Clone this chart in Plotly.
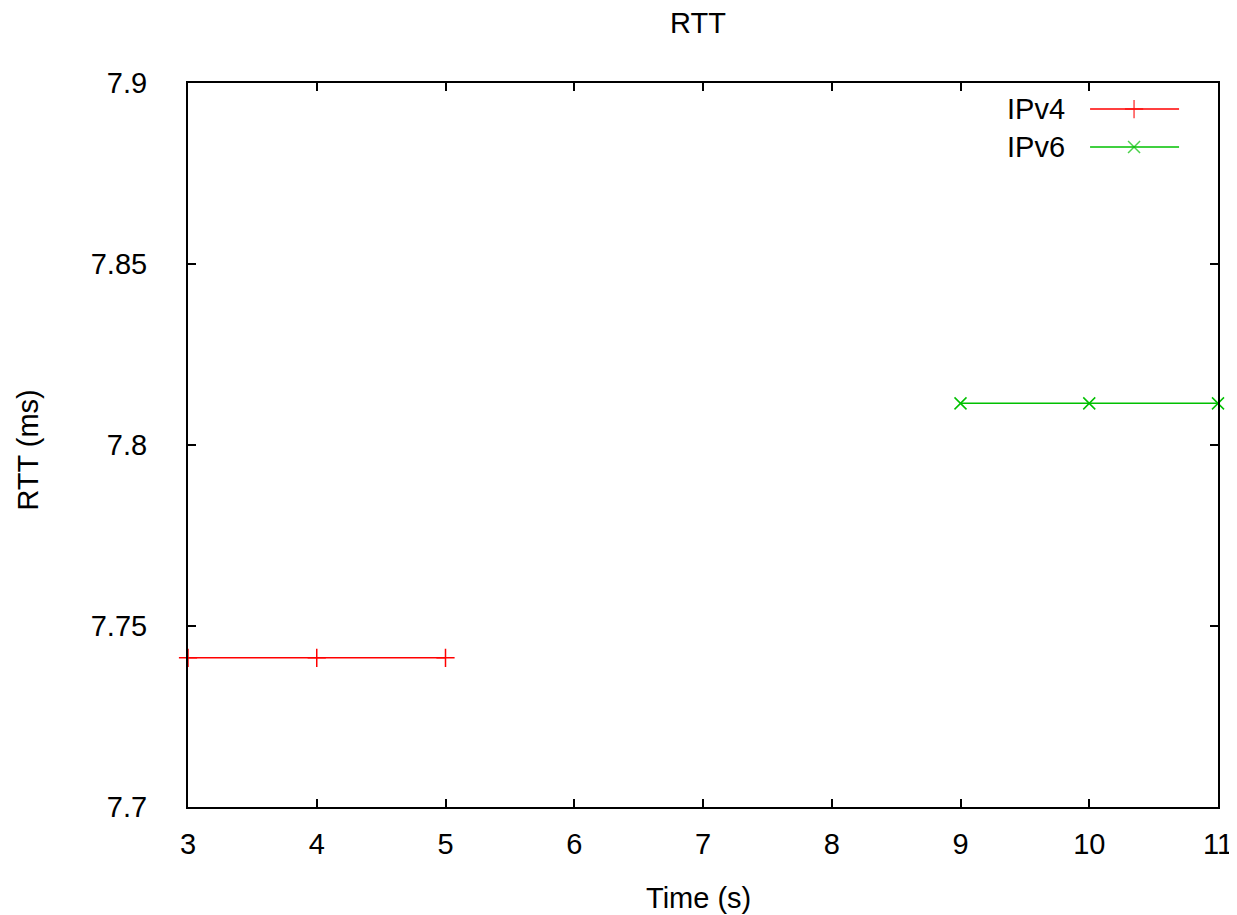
import plotly.graph_objects as go

# Data
ipv4_time = [3, 4, 5]
ipv4_rtt = [7.7412, 7.7412, 7.7412]
ipv6_time = [9, 10, 11]
ipv6_rtt = [7.8115, 7.8115, 7.8115]

x_ticks = [3, 4, 5, 6, 7, 8, 9, 10, 11]
y_ticks = [7.7, 7.75, 7.8, 7.85, 7.9]
y_tick_labels = ["7.7", "7.75", "7.8", "7.85", "7.9"]

RED = "#ff0000"
GREEN = "#00c000"
FONT = "Liberation Sans"
FS = 29

fig = go.Figure()
fig.add_trace(go.Scatter(
    x=ipv4_time, y=ipv4_rtt, mode="lines+markers", name="IPv4",
    line=dict(color=RED, width=1.5),
    marker=dict(symbol="cross-thin", size=13, line=dict(color=RED, width=1.5)),
    cliponaxis=False, showlegend=False))
fig.add_trace(go.Scatter(
    x=ipv6_time, y=ipv6_rtt, mode="lines+markers", name="IPv6",
    line=dict(color=GREEN, width=1.5),
    marker=dict(symbol="x-thin", size=12, line=dict(color=GREEN, width=1.5)),
    cliponaxis=False, showlegend=False))

# Legend samples (gnuplot style: text left, sample right) on a hidden overlay axis in paper units
leg_x = [0.8758, 0.9185, 0.9622]
leg_y = [0.964, 0.9116]
fig.add_trace(go.Scatter(
    x=leg_x, y=[leg_y[0]] * 3, xaxis="x2", yaxis="y2", mode="lines+markers",
    line=dict(color=RED, width=1.5),
    marker=dict(symbol="cross-thin", size=[0, 13, 0], line=dict(color=RED, width=1.5)),
    showlegend=False, hoverinfo="skip"))
fig.add_trace(go.Scatter(
    x=leg_x, y=[leg_y[1]] * 3, xaxis="x2", yaxis="y2", mode="lines+markers",
    line=dict(color=GREEN, width=1.5),
    marker=dict(symbol="x-thin", size=[0, 12, 0], line=dict(color=GREEN, width=1.5)),
    showlegend=False, hoverinfo="skip"))

annotations = [
    dict(text="IPv4", x=0.8535, y=leg_y[0], xref="paper", yref="paper",
         xanchor="right", yanchor="middle", showarrow=False,
         font=dict(family=FONT, size=FS, color="black")),
    dict(text="IPv6", x=0.8535, y=leg_y[1], xref="paper", yref="paper",
         xanchor="right", yanchor="middle", showarrow=False,
         font=dict(family=FONT, size=FS, color="black")),
    dict(text="Time (s)", x=0.4956, y=-0.1257, xref="paper", yref="paper",
         xanchor="center", yanchor="middle", showarrow=False,
         font=dict(family=FONT, size=FS, color="black")),
    dict(text="RTT (ms)", x=-0.1557, y=0.4931, xref="paper", yref="paper",
         xanchor="center", yanchor="middle", showarrow=False, textangle=-90,
         font=dict(family=FONT, size=FS, color="black")),
    dict(text="RTT", x=0.4947, y=1.0822, xref="paper", yref="paper",
         xanchor="center", yanchor="middle", showarrow=False,
         font=dict(family=FONT, size=FS, color="black")),
]

axis_common = dict(
    showgrid=False, zeroline=False, showline=True, linecolor="black", linewidth=2,
    mirror="ticks", ticks="inside", ticklen=8, tickwidth=1.5, tickcolor="black",
    tickfont=dict(family=FONT, size=FS, color="black"),
)

fig.update_layout(
    width=1237, height=907,
    margin=dict(l=180, r=18, t=75, b=108),
    paper_bgcolor="white", plot_bgcolor="white",
    showlegend=False,
    xaxis=dict(range=[3, 11], tickvals=x_ticks, ticktext=[str(v) for v in x_ticks],
               ticklabelstandoff=10, **axis_common),
    yaxis=dict(range=[7.7, 7.9], tickvals=y_ticks, ticktext=y_tick_labels,
               ticklabelstandoff=33, **axis_common),
    xaxis2=dict(range=[0, 1], overlaying="x", visible=False, fixedrange=True),
    yaxis2=dict(range=[0, 1], overlaying="y", visible=False, fixedrange=True),
    annotations=annotations,
)

fig.write_html("out.html")
